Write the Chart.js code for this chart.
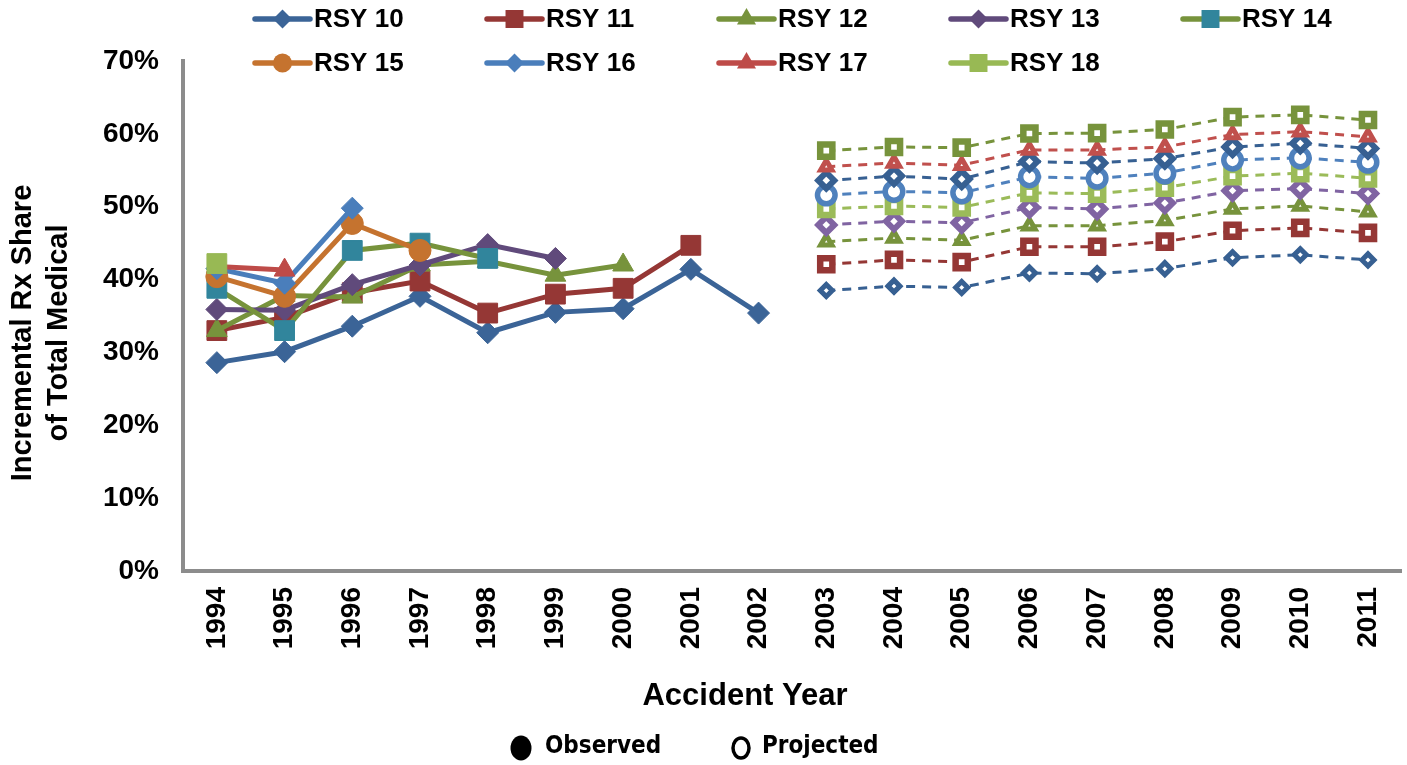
<!DOCTYPE html>
<html>
<head>
<meta charset="utf-8">
<script src="https://cdn.jsdelivr.net/npm/chart.js@4/dist/chart.umd.min.js"></script>
<style>
  html, body { margin: 0; padding: 0; background: #ffffff; overflow: hidden; }
  canvas { display: block; }
</style>
</head>
<body>
<!-- a bit wider than the window: Chart.js keeps some room right of the last label -->
<canvas id="rxChart" width="1418" height="765"></canvas>
<script>
// Accident years on the x axis
const years = ['1994', '1995', '1996', '1997', '1998', '1999', '2000', '2001', '2002',
               '2003', '2004', '2005', '2006', '2007', '2008', '2009', '2010', '2011'];
const yTicks = [0, 10, 20, 30, 40, 50, 60, 70];

// Observed values (%), starting at 1994
const rsy10Obs = [28.6, 30.1, 33.6, 37.7, 32.7, 35.5, 36.0, 41.4, 35.4];
const rsy11Obs = [33.0, 34.8, 38.2, 39.8, 35.4, 38.0, 38.8, 44.7];
const rsy12Obs = [33.0, 37.8, 37.6, 42.0, 42.5, 40.6, 42.0];
const rsy13Obs = [35.9, 35.8, 39.3, 42.0, 44.8, 42.9];
const rsy14Obs = [38.8, 33.0, 44.0, 45.0, 42.9];
const rsy15Obs = [40.4, 37.7, 47.7, 44.0];
const rsy16Obs = [41.5, 39.5, 49.8];
const rsy17Obs = [41.8, 41.3];
const rsy18Obs = [42.2];

// Projected values (%), 2003 - 2011
const rsy10Proj = [38.5, 39.1, 38.9, 40.9, 40.8, 41.5, 43.0, 43.4, 42.7];
const rsy11Proj = [42.1, 42.7, 42.4, 44.5, 44.5, 45.2, 46.7, 47.1, 46.4];
const rsy12Proj = [45.2, 45.7, 45.4, 47.4, 47.4, 48.1, 49.7, 50.1, 49.3];
const rsy13Proj = [47.5, 48.0, 47.8, 49.9, 49.7, 50.5, 52.2, 52.5, 51.8];
const rsy14Proj = [49.7, 50.1, 49.9, 51.9, 51.8, 52.6, 54.2, 54.6, 53.9];
const rsy15Proj = [51.6, 52.1, 51.9, 54.1, 53.9, 54.6, 56.4, 56.7, 56.1];
const rsy16Proj = [53.6, 54.2, 53.8, 56.2, 56.0, 56.6, 58.2, 58.7, 58.0];
const rsy17Proj = [55.5, 56.0, 55.7, 57.8, 57.8, 58.2, 59.9, 60.3, 59.6];
const rsy18Proj = [57.7, 58.2, 58.1, 60.05, 60.1, 60.6, 62.3, 62.6, 61.9];

const fontFamily = '"Liberation Sans", Arial, sans-serif';

// Series styles
const observed = [
    { label: 'RSY 10', data: rsy10Obs, line: '#3b6497', marker: '#3b6497', style: 'rectRot', r: 11 },
    { label: 'RSY 11', data: rsy11Obs, line: '#953735', marker: '#953735', style: 'rect', r: 14 },
    { label: 'RSY 12', data: rsy12Obs, line: '#77933c', marker: '#77933c', style: 'triangle', r: 12 },
    { label: 'RSY 13', data: rsy13Obs, line: '#604a7b', marker: '#604a7b', style: 'rectRot', r: 11 },
    { label: 'RSY 14', data: rsy14Obs, line: '#77933c', marker: '#31859c', style: 'rect', r: 14 },
    { label: 'RSY 15', data: rsy15Obs, line: '#c5732f', marker: '#c5732f', style: 'circle', r: 11 },
    { label: 'RSY 16', data: rsy16Obs, line: '#4a7ebb', marker: '#4a7ebb', style: 'rectRot', r: 11 },
    { label: 'RSY 17', data: rsy17Obs, line: '#be4b48', marker: '#be4b48', style: 'triangle', r: 12 },
    { label: 'RSY 18', data: rsy18Obs, line: '#98b954', marker: '#98b954', style: 'rect', r: 14 }
];

// projected markers are hollow with a heavy outline
const projected = [
    { data: rsy10Proj, color: '#376092', style: 'rectRot', r: 6, bw: 5 },
    { data: rsy11Proj, color: '#953735', style: 'rect', r: 8.6, bw: 6.5 },
    { data: rsy12Proj, color: '#77933c', style: 'triangle', r: 6.5, bw: 5 },
    { data: rsy13Proj, color: '#8064a2', style: 'rectRot', r: 8, bw: 6 },
    { data: rsy14Proj, color: '#9bbb59', style: 'rect', r: 8.6, bw: 6.5 },
    { data: rsy15Proj, color: '#4f81bd', style: 'circle', r: 8.8, bw: 5.5 },
    { data: rsy16Proj, color: '#376092', style: 'rectRot', r: 8, bw: 6 },
    { data: rsy17Proj, color: '#c0504d', style: 'triangle', r: 6.5, bw: 5 },
    { data: rsy18Proj, color: '#77933c', style: 'rect', r: 8.6, bw: 6.5 }
];

function padAfter(values) {
    const out = values.slice();
    while (out.length < years.length) out.push(null);
    return out;
}

function padBefore(values) {
    const out = [];
    while (out.length < years.length - values.length) out.push(null);
    return out.concat(values);
}

const datasets = [];

observed.forEach((s, i) => {
    datasets.push({
        label: s.label,
        data: padAfter(s.data),
        borderColor: s.line,
        borderWidth: 5,
        pointStyle: s.style,
        pointRadius: s.r,
        pointBackgroundColor: s.marker,
        pointBorderColor: s.marker,
        pointBorderWidth: 1,
        tension: 0,
        order: 30 - i
    });
});

projected.forEach((s, i) => {
    datasets.push({
        label: 'proj' + i,
        data: padBefore(s.data),
        borderColor: s.color,
        borderWidth: 3,
        borderDash: [9, 7],
        pointStyle: s.style,
        pointRadius: s.r,
        pointBackgroundColor: '#ffffff',
        pointBorderColor: s.color,
        pointBorderWidth: s.bw,
        tension: 0,
        order: 60 - i
    });
});

// legend marker sizes (smaller than the plotted ones)
const legendMarkerSize = { rectRot: 9.5, rect: 12.7, triangle: 11, circle: 9.5 };

// Small marker drawing used by the custom legends
function drawMarker(ctx, style, x, y, r) {
    ctx.beginPath();
    if (style === 'circle') {
        ctx.arc(x, y, r, 0, Math.PI * 2);
    } else if (style === 'rect') {
        const h = r * Math.SQRT1_2;
        ctx.rect(x - h, y - h, h * 2, h * 2);
    } else if (style === 'rectRot') {
        ctx.moveTo(x - r, y);
        ctx.lineTo(x, y - r);
        ctx.lineTo(x + r, y);
        ctx.lineTo(x, y + r);
        ctx.closePath();
    } else if (style === 'triangle') {
        ctx.moveTo(x, y - r);
        ctx.lineTo(x + r * 0.866, y + r * 0.5);
        ctx.lineTo(x - r * 0.866, y + r * 0.5);
        ctx.closePath();
    }
    ctx.fill();
}

const legendPlugin = {
    id: 'gridLegend',
    afterDraw(chart) {
        const ctx = chart.ctx;
        const colX = [255, 487, 719, 951, 1183];
        const rowY = [19, 63];
        ctx.save();
        observed.forEach((s, i) => {
            const x = colX[i % 5];
            const y = rowY[Math.floor(i / 5)];
            ctx.strokeStyle = s.line;
            ctx.lineWidth = 5.5;
            ctx.lineCap = 'round';
            ctx.beginPath();
            ctx.moveTo(x, y);
            ctx.lineTo(x + 55, y);
            ctx.stroke();
            ctx.fillStyle = s.marker;
            drawMarker(ctx, s.style, x + 27.5, y, legendMarkerSize[s.style]);
            ctx.fillStyle = '#000000';
            ctx.font = 'bold 26px ' + fontFamily;
            ctx.textAlign = 'left';
            ctx.textBaseline = 'middle';
            ctx.fillText(s.label, x + 59, y + 1);
        });

        // axis titles
        ctx.fillStyle = '#000000';
        ctx.textAlign = 'center';
        ctx.textBaseline = 'middle';
        ctx.font = 'bold 31px ' + fontFamily;
        ctx.fillText('Accident Year', 745, 696);
        ctx.save();
        ctx.translate(0, 333);
        ctx.rotate(-Math.PI / 2);
        ctx.font = 'bold 29px ' + fontFamily;
        ctx.fillText('Incremental Rx Share', 0, 23);
        ctx.fillText('of Total Medical', 0, 59);
        ctx.restore();

        // Observed / Projected key
        ctx.textAlign = 'left';
        ctx.font = 'bold 24px "DejaVu Sans Condensed", "DejaVu Sans", sans-serif';
        ctx.fillStyle = '#000000';
        ctx.beginPath();
        ctx.ellipse(521, 748, 10.5, 12.5, 0, 0, Math.PI * 2);
        ctx.fill();
        ctx.fillText('Observed', 545, 747);
        ctx.strokeStyle = '#000000';
        ctx.lineWidth = 3.5;
        ctx.beginPath();
        ctx.ellipse(741, 748, 8, 10, 0, 0, Math.PI * 2);
        ctx.stroke();
        ctx.fillText('Projected', 762, 747);
        ctx.restore();
    }
};

new Chart(document.getElementById('rxChart'), {
    type: 'line',
    data: { labels: years, datasets: datasets },
    options: {
        responsive: false,
        animation: false,
        spanGaps: false,
        layout: { padding: { top: 61, right: 4, bottom: 51, left: 0 } },
        plugins: {
            legend: { display: false },
            tooltip: { enabled: false }
        },
        scales: {
            x: {
                offset: true,
                grid: { display: false, drawTicks: false },
                border: { display: true, color: '#8c8c8c', width: 4 },
                ticks: {
                    color: '#000000',
                    font: { family: fontFamily, size: 28, weight: 'bold' },
                    maxRotation: 90,
                    minRotation: 90,
                    autoSkip: false,
                    padding: 16
                },
                afterFit(scale) { scale.height = 143; }
            },
            y: {
                min: 0,
                max: 70,
                afterBuildTicks(scale) { scale.ticks = yTicks.map(v => ({ value: v })); },
                grid: { display: false, drawTicks: false },
                border: { display: true, color: '#8c8c8c', width: 4 },
                ticks: {
                    color: '#000000',
                    font: { family: fontFamily, size: 28, weight: 'bold' },
                    padding: 24,
                    callback: v => v + '%'
                },
                afterFit(scale) { scale.width = 183; }
            }
        }
    },
    plugins: [legendPlugin]
});
</script>
</body>
</html>
